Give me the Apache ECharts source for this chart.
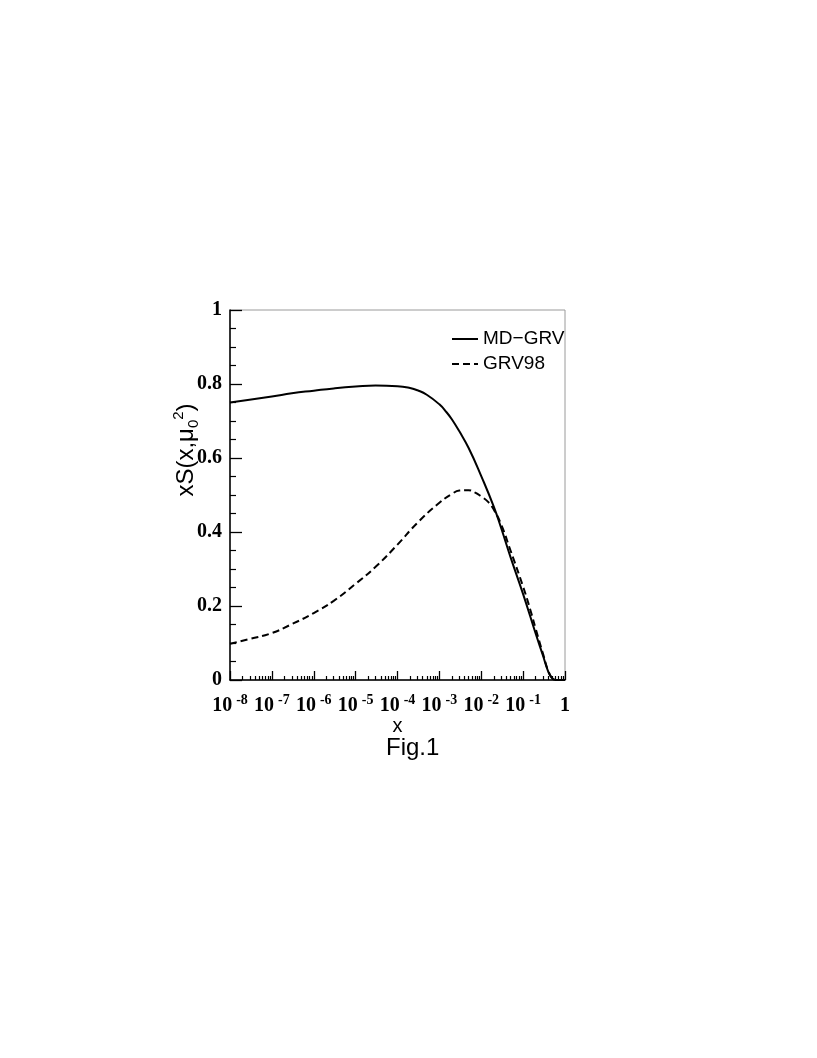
<!DOCTYPE html>
<html>
<head>
<meta charset="utf-8">
<script src="https://cdn.jsdelivr.net/npm/echarts@6/dist/echarts.min.js"></script>
<style>
html,body{margin:0;padding:0;background:#fff;}
#chart{width:817px;height:1058px;}
</style>
</head>
<body>
<div id="chart"></div>
<script>
// ---- data ----
const xSolid = [1e-8, 1e-7, 3e-7, 1e-6, 3e-6, 1e-5, 3e-5, 1e-4, 2e-4, 3e-4, 5e-4, 1e-3, 1.5e-3, 2e-3, 3e-3, 5e-3, 1e-2, 2e-2, 3e-2, 5e-2, 0.1, 0.2, 0.3, 0.4, 0.5, 0.6, 0.8, 1];
const ySolid = [0.750, 0.766, 0.775, 0.782, 0.788, 0.793, 0.796, 0.794, 0.789, 0.783, 0.771, 0.745, 0.723, 0.704, 0.672, 0.627, 0.551, 0.468, 0.410, 0.332, 0.232, 0.125, 0.065, 0.022, 0.004, 0.0, 0.0, 0.0];

const xDashed = [1e-8, 3e-8, 1e-7, 3e-7, 1e-6, 3e-6, 1e-5, 3e-5, 1e-4, 3e-4, 1e-3, 2e-3, 3e-3, 5e-3, 7e-3, 1e-2, 1.5e-2, 2e-2, 3e-2, 5e-2, 0.1, 0.15, 0.2, 0.3, 0.4, 0.5, 0.6, 0.8, 1];
const yDashed = [0.098, 0.111, 0.127, 0.151, 0.181, 0.214, 0.260, 0.306, 0.366, 0.425, 0.479, 0.503, 0.512, 0.513, 0.507, 0.496, 0.480, 0.460, 0.420, 0.350, 0.252, 0.188, 0.138, 0.070, 0.024, 0.004, 0.0, 0.0, 0.0];

const seriesNames = ['MD\u2212GRV', 'GRV98'];
const decadeTicks = [1e-8, 1e-7, 1e-6, 1e-5, 1e-4, 1e-3, 1e-2, 1e-1, 1];
const decadeExponents = ['-8', '-7', '-6', '-5', '-4', '-3', '-2', '-1', ''];

// minor tick positions 2..9 x 10^n within each decade
const minorTicks = [];
for (let i = 0; i < decadeTicks.length - 1; i++) {
  for (let k = 2; k <= 9; k++) minorTicks.push(k * decadeTicks[i]);
}

const pairs = (xs, ys) => xs.map((x, i) => [x, ys[i]]);

const serif = 'Liberation Serif';
const sans = 'Liberation Sans';

const chart = echarts.init(document.getElementById('chart'), null, {renderer: 'canvas'});
chart.setOption({
  backgroundColor: '#ffffff',
  animation: false,
  grid: {
    left: 230, right: 252, top: 310, bottom: 378,
    show: true, borderColor: '#9a9a9a', borderWidth: 1, backgroundColor: 'transparent'
  },
  legend: {
    left: 451, top: 329, orient: 'vertical', padding: 0,
    itemWidth: 26, itemHeight: 12, itemGap: 5,
    data: seriesNames,
    itemStyle: {opacity: 0},
    textStyle: {fontFamily: sans, fontSize: 19, color: '#000', lineHeight: 20}
  },
  xAxis: [
    {
      type: 'log', logBase: 10, min: 1e-8, max: 1, position: 'bottom',
      name: 'x', nameLocation: 'middle', nameGap: 34,
      nameTextStyle: {fontFamily: sans, fontSize: 20, color: '#000'},
      axisLine: {show: true, lineStyle: {color: '#000', width: 1.5}},
      axisTick: {show: true, inside: true, length: 9, lineStyle: {color: '#000', width: 1.3}, customValues: decadeTicks},
      axisLabel: {
        show: true, margin: 13, customValues: decadeTicks,
        formatter: function (v) {
          const idx = decadeTicks.findIndex(t => Math.abs(Math.log10(t) - Math.log10(v)) < 1e-6);
          const e = idx >= 0 ? decadeExponents[idx] : '';
          if (e === '') return '{b|1}';
          return '{b|10}{s|' + e + '}';
        },
        rich: {
          b: {fontFamily: serif, fontWeight: 'bold', fontSize: 20, color: '#000', lineHeight: 26},
          s: {fontFamily: serif, fontWeight: 'bold', fontSize: 14, color: '#000', lineHeight: 14, verticalAlign: 'top', padding: [0, 0, 0, 4]}
        }
      },
      splitLine: {show: false}
    },
    {
      type: 'log', logBase: 10, min: 1e-8, max: 1, position: 'bottom', gridIndex: 0,
      axisLine: {show: false},
      axisTick: {show: true, inside: true, length: 4, lineStyle: {color: '#000', width: 1.2}, customValues: minorTicks},
      axisLabel: {show: false},
      splitLine: {show: false}
    }
  ],
  yAxis: {
    type: 'value', min: 0, max: 1, interval: 0.2,
    axisLine: {show: true, lineStyle: {color: '#000', width: 1.5}},
    axisTick: {show: true, inside: true, length: 12, lineStyle: {color: '#000', width: 1.3}},
    minorTick: {show: true, splitNumber: 4, length: 6, lineStyle: {color: '#000', width: 1.2}},
    axisLabel: {
      margin: 8, fontFamily: serif, fontWeight: 'bold', fontSize: 20, color: '#000',
      formatter: function (v) { return String(Math.round(v * 10) / 10); }
    },
    splitLine: {show: false}
  },
  series: [
    {
      name: seriesNames[0], type: 'line', xAxisIndex: 0, data: pairs(xSolid, ySolid),
      showSymbol: false, symbol: 'none', smooth: 0.5,
      lineStyle: {color: '#000', width: 2, type: 'solid'}, itemStyle: {color: '#000'}
    },
    {
      name: seriesNames[1], type: 'line', xAxisIndex: 0, data: pairs(xDashed, yDashed),
      showSymbol: false, symbol: 'none', smooth: 0.5,
      lineStyle: {color: '#000', width: 2, type: [7, 4]}, itemStyle: {color: '#000'}
    }
  ],
  graphic: [
    {
      type: 'text', x: 186, y: 450, rotation: Math.PI / 2,
      style: {
        text: '{t|xS(x,\u03bc}{sub|0}{sup|2}{t|)}',
        align: 'center', verticalAlign: 'middle',
        rich: {
          t: {fontFamily: sans, fontSize: 24, fill: '#000', lineHeight: 30},
          sub: {fontFamily: sans, fontSize: 15, fill: '#000', lineHeight: 15, verticalAlign: 'bottom'},
          sup: {fontFamily: sans, fontSize: 15, fill: '#000', lineHeight: 15, verticalAlign: 'top'}
        }
      }
    },
    {
      type: 'text', left: 386, top: 736,
      style: {text: 'Fig.1', fontFamily: sans, fontSize: 24, fill: '#000'}
    }
  ]
});
</script>
</body>
</html>
